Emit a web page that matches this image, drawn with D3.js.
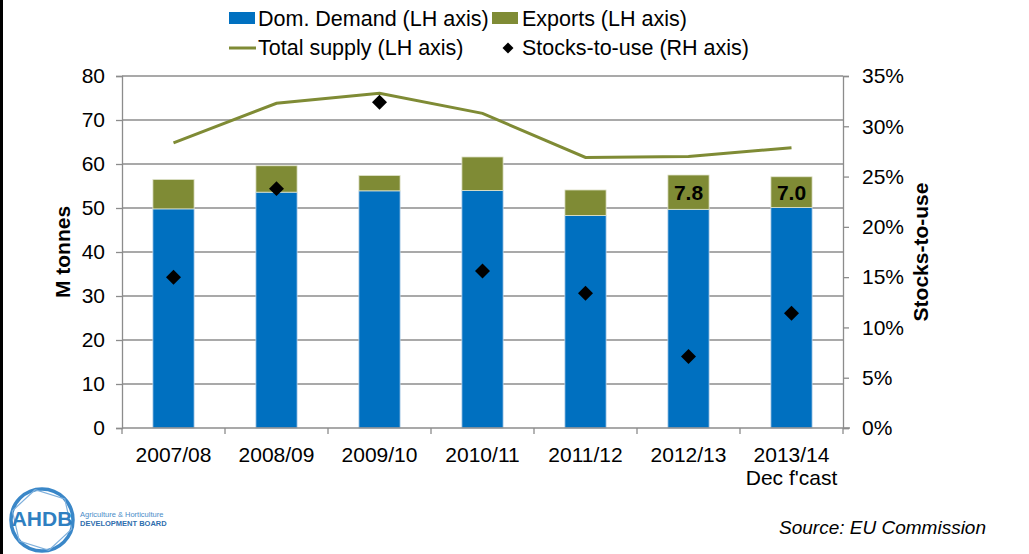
<!DOCTYPE html>
<html>
<head>
<meta charset="utf-8">
<script src="https://cdn.jsdelivr.net/npm/d3@7"></script>
<style>
  body { margin: 0; background: #fff; }
  svg text { font-family: "Liberation Sans", Arial, sans-serif; fill: #000; }
</style>
</head>
<body>
<div class="d3-container"></div>
<script>
const years = ["2007/08", "2008/09", "2009/10", "2010/11", "2011/12", "2012/13", "2013/14"]
const domDemand = [49.8, 53.6, 53.9, 54.0, 48.3, 49.7, 50.1]
const exportsVals = [6.7, 6.0, 3.5, 7.6, 5.8, 7.8, 7.0]
const totalSupply = [64.8, 73.8, 76.1, 71.5, 61.5, 61.7, 63.7]
const stocksToUse = [15.0, 23.8, 32.4, 15.6, 13.4, 7.1, 11.4]
const exportLabels = [null, null, null, null, null, "7.8", "7.0"]
const leftTicks = [0, 10, 20, 30, 40, 50, 60, 70, 80]
const rightTicks = [0, 5, 10, 15, 20, 25, 30, 35]

const blue = "#0070c0", olive = "#7f8b35", grid = "#8c8c8c"

const W = 1029, H = 554
const margin = {top: 76, right: 186, bottom: 126, left: 122}
const width = W - margin.left - margin.right,
    height = H - margin.top - margin.bottom

const root = d3.select(".d3-container").append("svg").attr("width", W).attr("height", H)
root.append("rect").attr("width", W).attr("height", H).attr("fill", "#fff")
root.append("line").attr("x1", 1.5).attr("x2", 1.5).attr("y1", 0).attr("y2", H)
    .attr("stroke", "#000").attr("stroke-width", 3)

const svg = root.append("g").attr("transform", `translate(${margin.left},${margin.top})`)

const x = d3.scaleBand().domain(years).range([0, width])
const y = d3.scaleLinear().domain([0, 80]).range([height, 0])
const y2 = d3.scaleLinear().domain([0, 35]).range([height, 0])

// gridlines
svg.append("g").selectAll("line").data(leftTicks.slice(1)).join("line")
    .attr("x1", 0).attr("x2", width)
    .attr("y1", d => y(d)).attr("y2", d => y(d))
    .attr("stroke", grid).attr("stroke-width", 1.3)

// bars
const bw = x.bandwidth() * 0.4
const bars = years.map((yr, i) => ({yr, dom: domDemand[i], exp: exportsVals[i], label: exportLabels[i]}))
svg.append("g").selectAll("rect").data(bars).join("rect")
    .attr("x", d => x(d.yr) + (x.bandwidth() - bw) / 2)
    .attr("y", d => y(d.dom))
    .attr("width", bw)
    .attr("height", d => y(0) - y(d.dom))
    .attr("fill", blue).attr("stroke", "#bcd3ea").attr("stroke-width", 0.8)
svg.append("g").selectAll("rect").data(bars).join("rect")
    .attr("x", d => x(d.yr) + (x.bandwidth() - bw) / 2)
    .attr("y", d => y(d.dom + d.exp))
    .attr("width", bw)
    .attr("height", d => y(d.dom) - y(d.dom + d.exp))
    .attr("fill", olive).attr("stroke", "#e3e6cf").attr("stroke-width", 0.8)
svg.append("g").selectAll("text").data(bars.filter(d => d.label)).join("text")
    .attr("x", d => x(d.yr) + x.bandwidth() / 2)
    .attr("y", d => y(d.dom + d.exp / 2))
    .attr("dy", "0.36em")
    .attr("text-anchor", "middle")
    .style("font-size", "21px").style("font-weight", "bold")
    .text(d => d.label)

// total supply line
const line = d3.line().x((d, i) => x(years[i]) + x.bandwidth() / 2).y(d => y(d))
svg.append("path").datum(totalSupply).attr("d", line)
    .attr("fill", "none").attr("stroke", olive).attr("stroke-width", 3)

// stocks-to-use diamonds
const diamond = d3.symbol(d3.symbolSquare, 112)
svg.append("g").selectAll("path").data(stocksToUse).join("path")
    .attr("d", diamond)
    .attr("transform", (d, i) => `translate(${x(years[i]) + x.bandwidth() / 2},${y2(d)}) rotate(45)`)
    .attr("fill", "#000")

// axes
const axL = svg.append("g").call(d3.axisLeft(y).tickValues(leftTicks).tickSize(6).tickPadding(11))
const axR = svg.append("g").attr("transform", `translate(${width},0)`)
    .call(d3.axisRight(y2).tickValues(rightTicks).tickSize(6).tickPadding(13).tickFormat(d => d + "%"))
const axB = svg.append("g").attr("transform", `translate(0,${height})`)
    .call(d3.axisBottom(x).tickSize(0).tickPadding(0))
for (const ax of [axL, axR, axB]) {
    ax.select(".domain").attr("stroke", grid).attr("stroke-width", 1.3)
    ax.selectAll(".tick line").attr("stroke", grid).attr("stroke-width", 1.3)
    ax.selectAll("text").style("font-size", "21px").style("font-family", "Liberation Sans, Arial, sans-serif")
}
axB.select(".domain").attr("d", `M0,0H${width + 7}`)
axB.selectAll(".tick text").attr("y", 34).attr("dy", 0)
axB.select(".tick:last-of-type text").append("tspan").attr("x", 0).attr("dy", 23).text("Dec f'cast")
// category boundary ticks
svg.append("g").selectAll("line").data(d3.range(years.length + 1)).join("line")
    .attr("x1", i => i * x.step()).attr("x2", i => i * x.step())
    .attr("y1", height).attr("y2", height + 6)
    .attr("stroke", grid).attr("stroke-width", 1.3)

// axis titles
svg.append("text").attr("transform", `translate(-52,${height / 2}) rotate(-90)`)
    .attr("text-anchor", "middle").style("font-size", "21px").style("font-weight", "bold")
    .text("M tonnes")
svg.append("text").attr("transform", `translate(${width + 85},${height / 2}) rotate(-90)`)
    .attr("text-anchor", "middle").style("font-size", "21px").style("font-weight", "bold")
    .text("Stocks-to-use")

// legend
const leg = root.append("g").style("font-size", "21.5px")
leg.append("rect").attr("x", 229).attr("y", 12).attr("width", 26).attr("height", 12).attr("fill", blue)
leg.append("text").attr("x", 258).attr("y", 26).text("Dom. Demand (LH axis)")
leg.append("rect").attr("x", 492).attr("y", 12).attr("width", 26).attr("height", 12).attr("fill", olive)
leg.append("text").attr("x", 522).attr("y", 26).text("Exports (LH axis)")
leg.append("line").attr("x1", 229).attr("x2", 256).attr("y1", 48).attr("y2", 48)
    .attr("stroke", olive).attr("stroke-width", 3)
leg.append("text").attr("x", 258).attr("y", 55).text("Total supply (LH axis)")
leg.append("path").attr("d", d3.symbol(d3.symbolSquare, 60))
    .attr("transform", "translate(508,48) rotate(45)").attr("fill", "#000")
leg.append("text").attr("x", 522).attr("y", 55).text("Stocks-to-use (RH axis)")

// source
root.append("text").attr("x", 986).attr("y", 534).attr("text-anchor", "end")
    .style("font-size", "19px").style("font-style", "italic").text("Source: EU Commission")

// logo
const logo = root.append("g").attr("transform", "translate(42,520)")
const hex = d3.range(6).map(k => [31 * Math.cos(Math.PI / 3 * k + 0.3), 31 * Math.sin(Math.PI / 3 * k + 0.3)])
logo.append("circle").attr("r", 31).attr("fill", "none").attr("stroke", "#3a87c8").attr("stroke-width", 3.5)
logo.append("polygon").attr("points", hex.map(p => p.join(",")).join(" "))
    .attr("fill", "none").attr("stroke", "#7fb0dc").attr("stroke-width", 1.2)
logo.append("text").attr("text-anchor", "middle").attr("y", 6).style("font-size", "21px")
    .style("font-weight", "bold").style("fill", "#2f7fc1").text("AHDB")
logo.append("text").attr("x", 38).attr("y", -3).style("font-size", "7.5px").style("fill", "#4a8cc8")
    .text("Agriculture & Horticulture")
logo.append("text").attr("x", 38).attr("y", 6).style("font-size", "7.5px").style("fill", "#2f6fae")
    .style("font-weight", "bold").text("DEVELOPMENT BOARD")
</script>
</body>
</html>
